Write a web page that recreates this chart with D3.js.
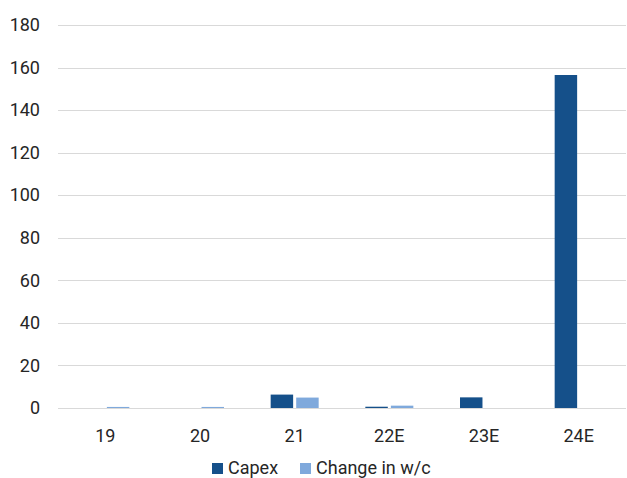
<!DOCTYPE html>
<html lang="en">
<head>
<meta charset="utf-8">
<title>Capex and change in w/c</title>
<script src="https://d3js.org/d3.v7.min.js"></script>
<style>
body {
  margin: 0;
  background: #ffffff;
  font-family: Roboto, "Noto Sans", sans-serif;
}
.grid line { stroke: #d9d9d9; }
.tick text { fill: #262626; font-size: 18px; font-family: Roboto, sans-serif; }
.legend text { fill: #262626; font-size: 18px; font-family: Roboto, sans-serif; }
</style>
</head>
<body>
<svg width="627" height="478"></svg>
<script>
var years = ["19", "20", "21", "22E", "23E", "24E"];
var series = ["Capex", "Change in w/c"];
var capex = [0, 0, 6.3, 0.6, 5.0, 156.5];
var changeWc = [0.5, 0.5, 4.9, 1.1, 0, 0];
var yTicks = [0, 20, 40, 60, 80, 100, 120, 140, 160, 180];

var colors = ["#15508a", "#7fa9dc"];

var svg = d3.select("svg"),
    margin = {top: 25, right: 1, bottom: 70, left: 58},
    width = +svg.attr("width") - margin.left - margin.right,
    height = 408 - margin.top;

var g = svg.append("g")
    .attr("transform", "translate(" + margin.left + "," + margin.top + ")");

var x = d3.scaleBand().domain(years).range([0, width]);
var x1 = d3.scaleBand().domain(series)
    .range([x.bandwidth() / 2 - 24, x.bandwidth() / 2 + 24])
    .paddingInner(0.12);
var y = d3.scaleLinear().domain([0, 180]).range([height, 0]);

// gridlines
g.append("g")
    .attr("class", "grid")
  .selectAll("line")
  .data(yTicks)
  .enter().append("line")
    .attr("x1", 0)
    .attr("x2", width)
    .attr("y1", function(d) { return Math.round(y(d)) + 0.5; })
    .attr("y2", function(d) { return Math.round(y(d)) + 0.5; });

// y axis labels
var yAxis = g.append("g")
    .call(d3.axisLeft(y).tickValues(yTicks).tickSize(0).tickPadding(18));
yAxis.select(".domain").remove();

// x axis labels
var xAxis = g.append("g")
    .attr("transform", "translate(0," + height + ")")
    .call(d3.axisBottom(x).tickSize(0).tickPadding(21));
xAxis.select(".domain").remove();

var rows = years.map(function(yr, i) {
  return {year: yr, values: [capex[i], changeWc[i]]};
});

var group = g.append("g").selectAll("g")
  .data(rows)
  .enter().append("g")
    .attr("transform", function(d) { return "translate(" + x(d.year) + ",0)"; });

group.selectAll("rect")
  .data(function(d) { return d.values.map(function(v, j) { return {key: series[j], value: v, idx: j}; }); })
  .enter().append("rect")
    .attr("x", function(d) { return x1(d.key); })
    .attr("width", x1.bandwidth())
    .attr("y", function(d) { return y(d.value); })
    .attr("height", function(d) { return height - y(d.value); })
    .style("fill", function(d) { return colors[d.idx]; });

// legend
var legend = svg.append("g")
    .attr("class", "legend")
    .attr("transform", "translate(212,468)");

var lx = [0, 88];
series.forEach(function(s, i) {
  var item = legend.append("g").attr("transform", "translate(" + lx[i] + ",0)");
  item.append("rect")
      .attr("x", 0).attr("y", -5)
      .attr("width", 11).attr("height", 11)
      .style("fill", colors[i]);
  item.append("text")
      .attr("x", 16)
      .attr("dy", "0.35em")
      .text(s);
});
</script>
</body>
</html>
